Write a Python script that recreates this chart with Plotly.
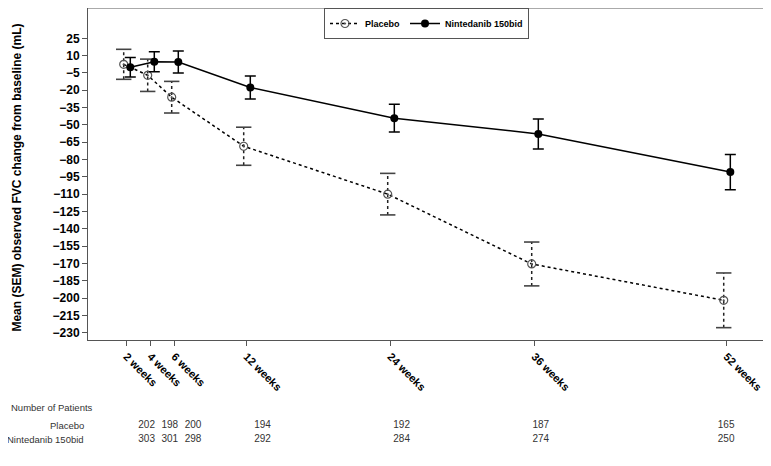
import plotly.graph_objects as go

# visits (weeks) and tick labels
weeks = [2, 4, 6, 12, 24, 36, 52]
week_labels = ["2 weeks", "4 weeks", "6 weeks", "12 weeks", "24 weeks", "36 weeks", "52 weeks"]
y_ticks = list(range(25, -231, -15))

# mean observed FVC change from baseline (mL) and SEM
placebo_mean = [2.5, -7, -26, -68.5, -110, -170.5, -202]
placebo_sem = [13, 14, 13.7, 16.5, 18, 19, 23.7]
ninte_mean = [0, 4.7, 4.5, -17.6, -44.2, -57.8, -90.9]
ninte_sem = [8.4, 8.7, 9.5, 10, 12, 13, 15.3]

# number of patients per visit
placebo_n = [202, 198, 200, 194, 192, 187, 165]
ninte_n = [303, 301, 298, 292, 284, 274, 250]

# small horizontal dodge so the two arms don't overlap
PLA_SHIFT, NIN_SHIFT = -0.25, 0.3
pla_x = [w + PLA_SHIFT for w in weeks]
nin_x = [w + NIN_SHIFT for w in weeks]

BOLD = dict(family="Liberation Sans, Arial, sans-serif", size=12, color="black", weight="bold")
table_font = dict(family="Liberation Sans, Arial", size=10, color="#333")
label_font = dict(family="Liberation Sans, Arial", size=9.5, color="#333")

# the page body adds an 8px offset, so the figure is a bit smaller than the window
W, H = 763, 458
Y_DOMAIN = [0.2751, 1]

fig = go.Figure()

# placebo error bars drawn as dotted segments + caps
seg_x, seg_y, cap_x, cap_y = [], [], [], []
for x, m, s in zip(pla_x, placebo_mean, placebo_sem):
    seg_x += [x, x, None]
    seg_y += [m - s, m + s, None]
    cap_x += [x, x]
    cap_y += [m - s, m + s]

fig.add_trace(go.Scatter(
    x=seg_x, y=seg_y, mode="lines", showlegend=False, hoverinfo="skip",
    line=dict(color="#222", width=1.5, dash="dot"),
))
fig.add_trace(go.Scatter(
    x=cap_x, y=cap_y, mode="markers", showlegend=False, hoverinfo="skip",
    marker=dict(symbol="line-ew-open", size=11, color="#444", line=dict(color="#444", width=1.6)),
))

fig.add_trace(go.Scatter(
    x=pla_x, y=placebo_mean, mode="lines+markers", name="Placebo",
    line=dict(color="black", width=1.5, dash="dot"),
    marker=dict(symbol="circle-open-dot", size=8, color="#555", line=dict(width=1.2)),
))

fig.add_trace(go.Scatter(
    x=nin_x, y=ninte_mean, mode="lines+markers", name="Nintedanib 150bid",
    line=dict(color="black", width=1.5),
    marker=dict(symbol="circle", size=8, color="black"),
    error_y=dict(type="data", array=ninte_sem, visible=True,
                 color="black", thickness=1.5, width=5.5),
))

# number-of-patients table on its own axes below the plot
fig.add_trace(go.Scatter(
    x=weeks, y=[1] * len(weeks), mode="text", text=[str(n) for n in placebo_n],
    xaxis="x2", yaxis="y2", showlegend=False, hoverinfo="skip", textfont=table_font,
))
fig.add_trace(go.Scatter(
    x=weeks, y=[2] * len(weeks), mode="text", text=[str(n) for n in ninte_n],
    xaxis="x2", yaxis="y2", showlegend=False, hoverinfo="skip", textfont=table_font,
))

fig.add_annotation(text="Number of Patients", xref="paper", yref="y2", x=-0.117, y=-0.3,
                   xanchor="left", showarrow=False, font=label_font)
fig.add_annotation(text="Placebo", xref="paper", yref="y2", x=-0.003, y=1,
                   xanchor="right", showarrow=False, font=label_font)
fig.add_annotation(text="Nintedanib 150bid", xref="paper", yref="y2", x=-0.003, y=2,
                   xanchor="right", showarrow=False, font=label_font)

# y-axis title as a rotated annotation so it sits at the far left
fig.add_annotation(text="Mean (SEM) observed FVC change from baseline (mL)",
                   xref="paper", yref="paper", x=-0.105, xanchor="center",
                   y=(Y_DOMAIN[0] + Y_DOMAIN[1]) / 2 - 0.008, yanchor="middle",
                   textangle=-90, showarrow=False, font=BOLD)

fig.update_layout(
    width=W, height=H,
    margin=dict(l=80, r=6, t=0, b=0),
    plot_bgcolor="white", paper_bgcolor="white",
    font=dict(family="Liberation Sans, Arial, sans-serif", color="black"),
    xaxis=dict(
        range=[-1.225, 55.19], tickvals=weeks, ticktext=week_labels, tickangle=45,
        tickfont=dict(BOLD, size=11), ticks="outside", ticklen=5, tickcolor="#555",
        showline=True, linecolor="#555", linewidth=1, showgrid=False, zeroline=False,
        automargin=False,
    ),
    yaxis=dict(
        domain=Y_DOMAIN, range=[-236.4, 51.3], tickvals=y_ticks,
        tickfont=BOLD, ticks="outside", ticklen=5, tickcolor="#555",
        showline=True, linecolor="#555", linewidth=1, showgrid=False, zeroline=False,
        automargin=False,
    ),
    xaxis2=dict(domain=[0, 1], range=[-3.06, 55.35], anchor="y2", visible=False),
    yaxis2=dict(domain=[0, 0.2], range=[3.97, -2.77], anchor="x2", visible=False),
    legend=dict(
        orientation="h", x=0.5, xanchor="center", y=1.0, yanchor="top",
        bordercolor="#555", borderwidth=1, bgcolor="white",
        font=dict(family="Liberation Sans, Arial", size=9, weight="bold"),
        itemwidth=30, tracegroupgap=0,
    ),
    shapes=[
        dict(type="line", xref="paper", yref="paper", x0=0, x1=1, y0=1, y1=1,
             line=dict(color="#aaa", width=2)),
        dict(type="line", xref="paper", yref="paper", x0=1, x1=1, y0=Y_DOMAIN[0], y1=1,
             line=dict(color="#777", width=1.5)),
    ],
)

fig.write_html("out.html")
